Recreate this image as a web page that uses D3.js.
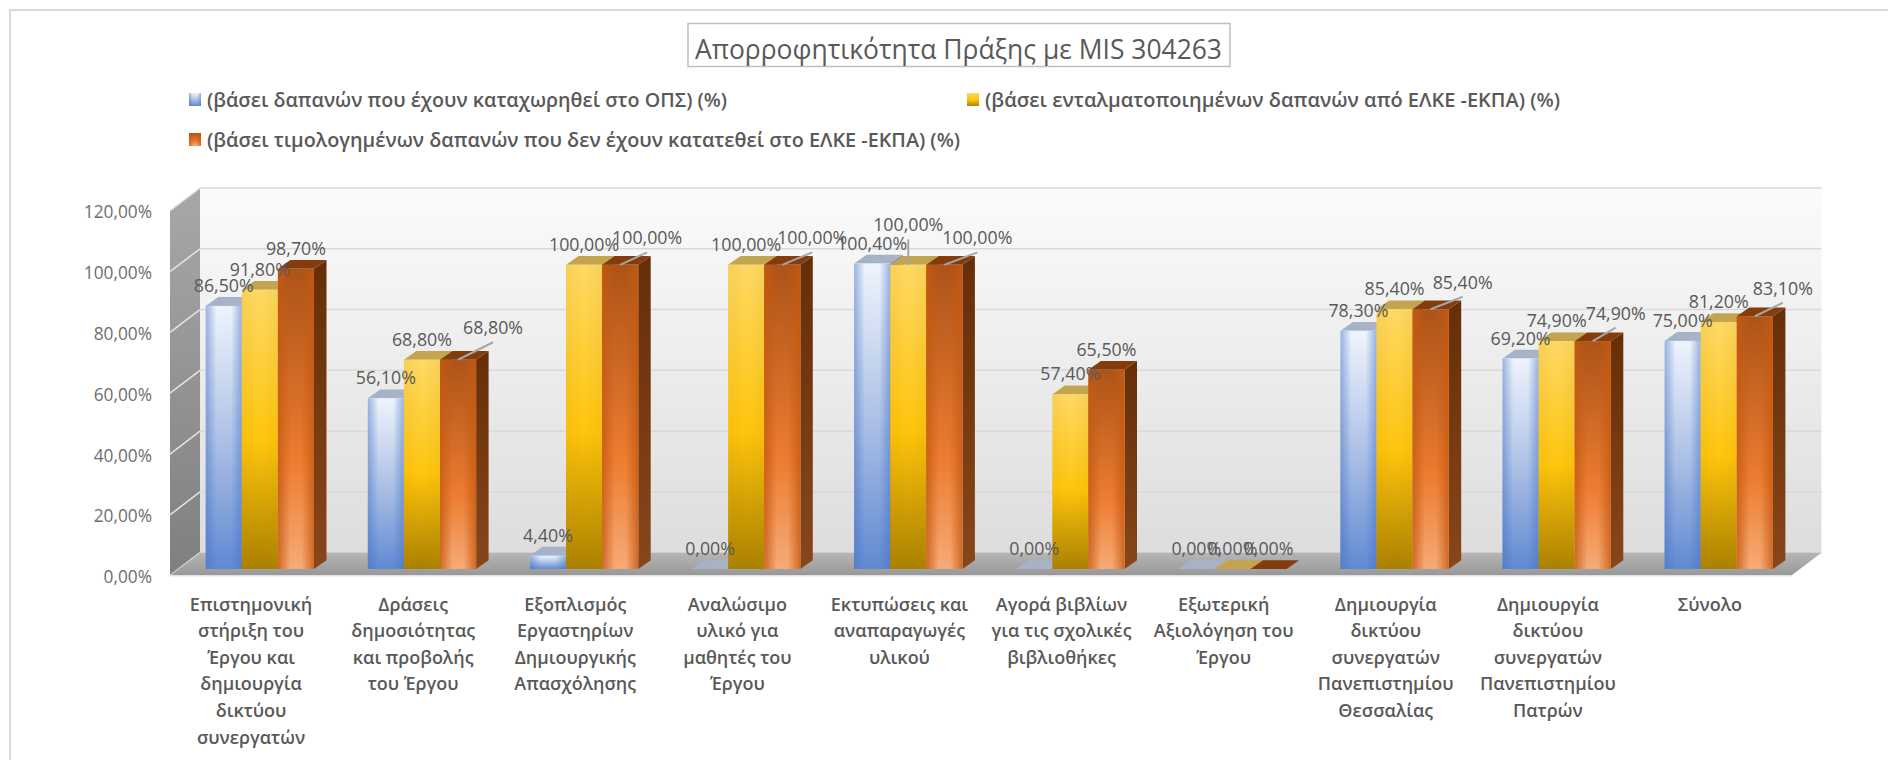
<!DOCTYPE html>
<html>
<head>
<meta charset="utf-8">
<script src="https://cdn.jsdelivr.net/npm/d3@7/dist/d3.min.js"></script>
<style>
	html, body {margin: 0; padding: 0; background: #fff;}
	svg {display: block;}
	text {font-family: "Open Sans", sans-serif;}
</style>
</head>
<body>
<div id="container"></div>
<script>
var chartTitle = "Απορροφητικότητα Πράξης με MIS 304263";

var seriesNames = [
	"(βάσει δαπανών που έχουν καταχωρηθεί στο ΟΠΣ) (%)",
	"(βάσει ενταλματοποιημένων δαπανών από ΕΛΚΕ -ΕΚΠΑ) (%)",
	"(βάσει τιμολογημένων δαπανών που δεν έχουν κατατεθεί στο ΕΛΚΕ -ΕΚΠΑ) (%)"
];

var categories = [
	"Επιστημονική\nστήριξη του\nΈργου και\nδημιουργία\nδικτύου\nσυνεργατών",
	"Δράσεις\nδημοσιότητας\nκαι προβολής\nτου Έργου",
	"Εξοπλισμός\nΕργαστηρίων\nΔημιουργικής\nΑπασχόλησης",
	"Αναλώσιμο\nυλικό για\nμαθητές του\nΈργου",
	"Εκτυπώσεις και\nαναπαραγωγές\nυλικού",
	"Αγορά βιβλίων\nγια τις σχολικές\nβιβλιοθήκες",
	"Εξωτερική\nΑξιολόγηση του\nΈργου",
	"Δημιουργία\nδικτύου\nσυνεργατών\nΠανεπιστημίου\nΘεσσαλίας",
	"Δημιουργία\nδικτύου\nσυνεργατών\nΠανεπιστημίου\nΠατρών",
	"Σύνολο"
];

var opsValues = [86.5, 56.1, 4.4, 0, 100.4, 0, 0, 78.3, 69.2, 75];
var elkeValues = [91.8, 68.8, 100, 100, 100, 57.4, 0, 85.4, 74.9, 81.2];
var invoicedValues = [98.7, 68.8, 100, 100, 100, 65.5, 0, 85.4, 74.9, 83.1];

var yTicks = [0, 20, 40, 60, 80, 100, 120];

// labels excel pulled away from their bar, these get a leader line
var movedLabels = [
	{cat: 1, ser: 2, dx: 35, dy: -32},
	{cat: 2, ser: 2, dx: 27, dy: -27},
	{cat: 3, ser: 2, dx: 30, dy: -27},
	{cat: 4, ser: 1, dx: 0, dy: -40},
	{cat: 4, ser: 2, dx: 33, dy: -27},
	{cat: 7, ser: 2, dx: 32, dy: -27},
	{cat: 8, ser: 2, dx: 23, dy: -28},
	{cat: 9, ser: 2, dx: 28, dy: -28}
];

var width = 1888,
    height = 760;

var svg = d3.select('#container').append('svg')
	.attr("width", width)
	.attr("height", height);

var defs = svg.append('defs');

function gradient(id, horizontal, stops) {
	var g = defs.append('linearGradient')
		.attr('id', id)
		.attr('x1', 0).attr('y1', 0)
		.attr('x2', horizontal ? 1 : 0)
		.attr('y2', horizontal ? 0 : 1);
	g.selectAll('stop')
		.data(stops)
		.enter()
		.append('stop')
		.attr('offset', function(d) {return d[0];})
		.attr('stop-color', function(d) {return d[1];})
		.attr('stop-opacity', function(d) {return d[2] === undefined ? 1 : d[2];});
}

gradient('wallFill', false, [[0, '#fbfbfb'], [1, '#dddddd']]);
gradient('sideWallFill', false, [[0, '#a8a8a8'], [1, '#7f7f7f']]);
gradient('floorFill', false, [[0, '#b6b6b6'], [1, '#979797']]);

gradient('front0', false, [[0, '#eff4fc'], [0.5, '#aec2e6'], [1, '#6089d3']]);
gradient('front1', false, [[0, '#ffd966'], [0.55, '#ffc50c'], [1, '#a97f00']]);
gradient('front2', false, [[0, '#ad5318'], [0.65, '#ed7d31'], [1, '#f6ab78']]);
gradient('edge0', true, [[0, '#4472c4', 0.5], [0.3, '#4472c4', 0], [0.7, '#4472c4', 0], [1, '#4472c4', 0.5]]);
gradient('edge1', true, [[0, '#bf9000', 0.12], [0.5, '#bf9000', 0], [1, '#bf9000', 0.12]]);
gradient('edge2', true, [[0, '#c55a11', 0.8], [0.35, '#c55a11', 0], [0.65, '#c55a11', 0], [1, '#c55a11', 0.8]]);
gradient('side0', false, [[0, '#6f86ad'], [1, '#2f5597']]);
gradient('side1', false, [[0, '#a98a35'], [1, '#7f6000']]);
gradient('side2', false, [[0, '#662e08'], [1, '#88461a']]);
gradient('top0', true, [[0, '#a3b2cb'], [1, '#aab3c2']]);

var topColors = ['url(#top0)', '#c4a54f', '#843c0c'];

var seriesValues = [opsValues, elkeValues, invoicedValues];
var percent = d3.formatLocale({decimal: ",", thousands: ".", grouping: [3], currency: ["", ""]}).format(".2f");
function pctLabel(v) {
	return percent(v) + "%";
}

// outer frame, runs off the right and bottom of the picture
svg.append('rect')
	.attr('x', 10).attr('y', 10)
	.attr('width', width).attr('height', height)
	.attr('fill', '#fff')
	.attr('stroke', '#d9d9d9')
	.attr('stroke-width', 2);

// title
svg.append('rect')
	.attr('x', 688).attr('y', 23.5)
	.attr('width', 542).attr('height', 43)
	.attr('fill', '#fff')
	.attr('stroke', '#bfbfbf')
	.attr('stroke-width', 1.5);

svg.append('text')
	.attr('x', 695).attr('y', 59)
	.attr('font-size', 27)
	.attr('fill', '#595959')
	.attr('textLength', 527)
	.attr('lengthAdjust', 'spacingAndGlyphs')
	.text(chartTitle);

// legend
var legendX = [189, 967, 189],
    legendY = [100, 100, 140],
    legendW = [520, 575, 753];

var legend = svg.append('g')
	.attr('class', 'legend')
	.selectAll('g')
	.data(seriesNames)
	.enter()
	.append('g')
	.attr('transform', function(d, i) {return "translate(" + legendX[i] + "," + legendY[i] + ")";});

legend.append('rect')
	.attr('y', -7).attr('width', 12).attr('height', 13)
	.attr('fill', function(d, i) {return "url(#front" + i + ")";});
legend.append('rect')
	.attr('y', -7).attr('width', 12).attr('height', 13)
	.attr('fill', function(d, i) {return "url(#edge" + i + ")";});
legend.append('text')
	.attr('x', 18).attr('y', 6.5)
	.attr('font-size', 20)
	.attr('font-weight', 600)
	.attr('fill', '#595959')
	.attr('textLength', function(d, i) {return legendW[i];})
	.attr('lengthAdjust', 'spacingAndGlyphs')
	.text(function(d) {return d;});

// scales: the value axis lives on three planes of the 3d box
var yFront = d3.scaleLinear().domain([0, 120]).range([575.7, 210.7]);
var yBack = d3.scaleLinear().domain([0, 120]).range([552.7, 188]);
var yBar = d3.scaleLinear().domain([0, 120]).range([569, 204]);

var frontLeft = 170, frontRight = 1791, backLeft = 200, backRight = 1821.5;
var barInset = 35.7, depthX = 12.5, depthY = 8.8;

var xBand = d3.scaleBand().domain(d3.range(categories.length)).range([frontLeft, frontRight]);
var xSeries = d3.scaleBand().domain(d3.range(seriesNames.length)).range([0, 108.3]);

function polygon(pts) {
	return pts.map(function(p) {return p.join(",");}).join(" ");
}

// back wall
svg.append('rect')
	.attr('x', backLeft).attr('y', yBack(120))
	.attr('width', backRight - backLeft).attr('height', yBack(0) - yBack(120))
	.attr('fill', 'url(#wallFill)');

svg.append('g')
	.attr('class', 'grid')
	.selectAll('line')
	.data(yTicks)
	.enter()
	.append('line')
	.attr('x1', backLeft).attr('x2', backRight)
	.attr('y1', function(d) {return yBack(d);})
	.attr('y2', function(d) {return yBack(d);})
	.attr('stroke', '#d9d9d9')
	.attr('stroke-width', 1.5);

// left side wall
svg.append('polygon')
	.attr('points', polygon([[frontLeft, yFront(120)], [backLeft, yBack(120)], [backLeft, yBack(0)], [frontLeft, yFront(0)]]))
	.attr('fill', 'url(#sideWallFill)');

svg.append('g')
	.attr('class', 'side-grid')
	.selectAll('line')
	.data(yTicks)
	.enter()
	.append('line')
	.attr('x1', frontLeft).attr('x2', backLeft)
	.attr('y1', function(d) {return yFront(d);})
	.attr('y2', function(d) {return yBack(d);})
	.attr('stroke', '#e4e4e4')
	.attr('stroke-width', 1.5);

// floor
svg.append('polygon')
	.attr('points', polygon([[backLeft, yBack(0)], [backRight, yBack(0)], [frontRight, yFront(0)], [frontLeft, yFront(0)]]))
	.attr('fill', 'url(#floorFill)');
svg.append('line')
	.attr('x1', frontLeft).attr('x2', frontRight)
	.attr('y1', yFront(0)).attr('y2', yFront(0))
	.attr('stroke', '#e2e2e2')
	.attr('stroke-width', 1.5);

// value axis
var yAxis = d3.axisLeft(yFront)
	.tickValues(yTicks)
	.tickSize(0)
	.tickPadding(18)
	.tickFormat(pctLabel);

var yAxisG = svg.append('g')
	.attr('class', 'y-axis')
	.attr('transform', "translate(" + frontLeft + ",1.5)")
	.call(yAxis);
yAxisG.select('.domain').remove();
yAxisG.selectAll('text')
	.attr('font-family', '"Open Sans", sans-serif')
	.attr('font-size', 17.3)
	.attr('fill', '#6e6e6e');

// category labels
var catLabels = svg.append('g')
	.attr('class', 'x-labels')
	.selectAll('text')
	.data(categories)
	.enter()
	.append('text')
	.attr('text-anchor', 'middle')
	.attr('font-size', 18)
	.attr('font-weight', 600)
	.attr('fill', '#595959');

catLabels.each(function(d, i) {
	d3.select(this).selectAll('tspan')
		.data(d.split("\n"))
		.enter()
		.append('tspan')
		.attr('x', xBand(i) + xBand.bandwidth() / 2)
		.attr('y', function(line, k) {return 610.5 + k * 26.6;})
		.text(function(line) {return line;});
});

// bars, series by series inside each category so later ones cover earlier ones
var barData = [];
categories.forEach(function(c, i) {
	seriesValues.forEach(function(vals, s) {
		barData.push({cat: i, ser: s, value: vals[i]});
	});
});

function barX(d) {
	return xBand(d.cat) + barInset + xSeries(d.ser);
}

var bars = svg.append('g')
	.attr('class', 'bars')
	.selectAll('g')
	.data(barData)
	.enter()
	.append('g');

bars.append('polygon')
	.attr('points', function(d) {
		var x = barX(d) + xSeries.bandwidth(), t = yBar(d.value), b = yBar(0);
		return polygon([[x, t], [x + depthX, t - depthY], [x + depthX, b - depthY], [x, b]]);
	})
	.attr('fill', function(d) {return "url(#side" + d.ser + ")";});

bars.append('polygon')
	.attr('points', function(d) {
		var x = barX(d), w = xSeries.bandwidth(), t = yBar(d.value);
		return polygon([[x, t], [x + depthX, t - depthY], [x + w + depthX, t - depthY], [x + w, t]]);
	})
	.attr('fill', function(d) {return topColors[d.ser];});

bars.append('rect')
	.attr('x', barX)
	.attr('y', function(d) {return yBar(d.value);})
	.attr('width', xSeries.bandwidth())
	.attr('height', function(d) {return yBar(0) - yBar(d.value);})
	.attr('fill', function(d) {return "url(#front" + d.ser + ")";});

bars.append('rect')
	.attr('x', barX)
	.attr('y', function(d) {return yBar(d.value);})
	.attr('width', xSeries.bandwidth())
	.attr('height', function(d) {return yBar(0) - yBar(d.value);})
	.attr('fill', function(d) {return "url(#edge" + d.ser + ")";});

// data labels on top of everything
function moved(d) {
	return movedLabels.filter(function(m) {return m.cat === d.cat && m.ser === d.ser;})[0];
}
function barCenter(d) {
	return barX(d) + xSeries.bandwidth() / 2;
}

svg.append('g')
	.attr('class', 'leaders')
	.selectAll('line')
	.data(barData.filter(moved))
	.enter()
	.append('line')
	.attr('x1', barCenter)
	.attr('y1', function(d) {return yBar(d.value);})
	.attr('x2', function(d) {return barCenter(d) + moved(d).dx;})
	.attr('y2', function(d) {return yBar(d.value) + moved(d).dy + 14.5;})
	.attr('stroke', '#a6a6a6')
	.attr('stroke-width', 2);

svg.append('g')
	.attr('class', 'data-labels')
	.selectAll('text')
	.data(barData)
	.enter()
	.append('text')
	.attr('text-anchor', 'middle')
	.attr('font-size', 17.8)
	.attr('fill', '#595959')
	.attr('x', function(d) {
		var m = moved(d);
		return barCenter(d) + (m ? m.dx : 0);
	})
	.attr('y', function(d) {
		var m = moved(d);
		return yBar(d.value) + (m ? m.dy : -20.5) + 6.5;
	})
	.text(function(d) {return pctLabel(d.value);});
</script>
</body>
</html>
